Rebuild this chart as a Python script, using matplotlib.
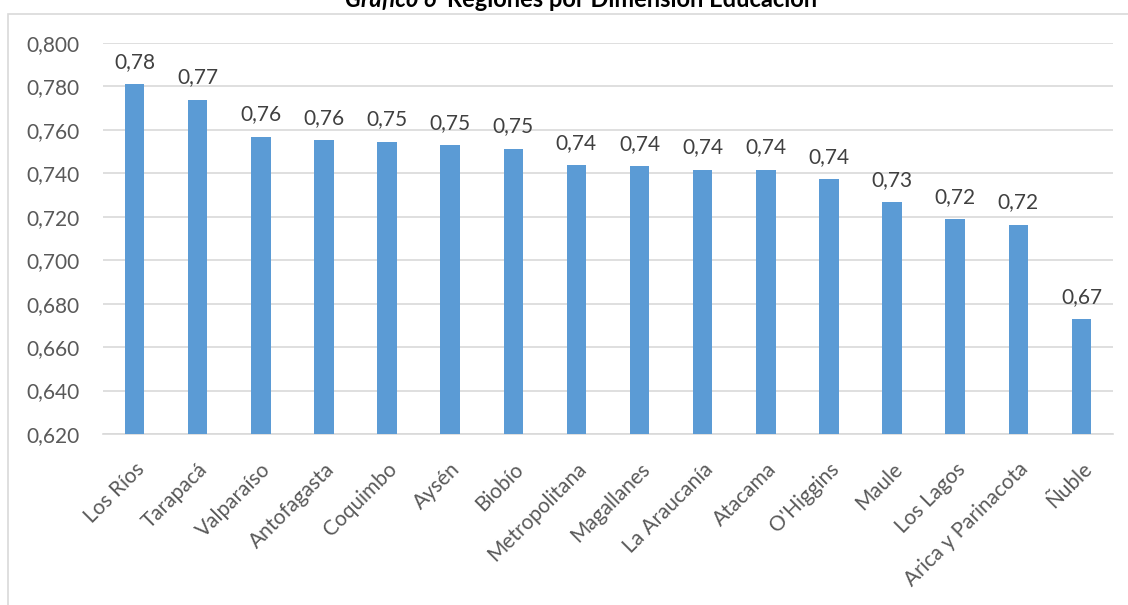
import matplotlib
matplotlib.use("Agg")
import matplotlib.pyplot as plt
from matplotlib.patches import Rectangle
from matplotlib.ticker import FuncFormatter

regions = ["Los Ríos", "Tarapacá", "Valparaíso", "Antofagasta", "Coquimbo", "Aysén",
           "Biobío", "Metropolitana", "Magallanes", "La Araucanía", "Atacama",
           "O'Higgins", "Maule", "Los Lagos", "Arica y Parinacota", "Ñuble"]
values = [0.781, 0.7738, 0.7569, 0.7553, 0.7544, 0.7530, 0.7512, 0.7437, 0.7433,
          0.7416, 0.7415, 0.7372, 0.7266, 0.7189, 0.7163, 0.6728]
title_italic = "Gráfico 6"
title_rest = "Regiones por Dimensión Educación"

W, H = 1128, 605
fig = plt.figure(figsize=(W / 100, H / 100), dpi=100)
plt.rcParams['font.family'] = ['Lato', 'DejaVu Sans']
txt = "#595959"

# chart border
fig.patches.append(Rectangle((8 / W, -0.1), 1.2, 1 - 14 / H + 0.1, transform=fig.transFigure,
                             facecolor="none", edgecolor="#d9d9d9", linewidth=1.2))

ax = fig.add_axes([103 / W, 1 - 434 / H, (1113 - 103) / W, (434 - 43) / H])
x = list(range(len(regions)))
ax.bar(x, values, width=0.31, color="#5b9bd5", zorder=3)
ax.set_ylim(0.62, 0.80)
ax.set_xlim(-0.5, len(regions) - 0.5)
ax.set_yticks([0.62 + 0.02 * i for i in range(10)])
ax.yaxis.set_major_formatter(FuncFormatter(lambda v, p: f"{v:.3f}".replace(".", ",")))
ax.grid(axis="y", color="#d9d9d9", linewidth=1.2, zorder=0)
for s in ["top", "right", "left"]:
    ax.spines[s].set_visible(False)
ax.spines["bottom"].set_color("#d9d9d9")
ax.spines["bottom"].set_linewidth(1.2)
ax.tick_params(axis="both", length=0, colors=txt, labelsize=15)
ax.tick_params(axis="y", pad=17)
ax.set_xticks(x)
ax.set_xticklabels(regions, rotation=45, ha="right", rotation_mode="anchor")
ax.tick_params(axis="x", pad=18)

for xi, v in zip(x, values):
    ax.annotate(f"{v:.2f}".replace(".", ","), (xi, v), xytext=(0, 9), textcoords="offset points",
                ha="center", va="bottom", color="#404040", fontsize=15)

ty = 1 - 7 / H
t1 = fig.text(0, ty, title_italic + " ", ha="left", va="baseline", fontsize=17,
              fontweight="bold", fontstyle="italic", color="black")
t2 = fig.text(0, ty, title_rest, ha="left", va="baseline", fontsize=17,
              fontweight="bold", color="black")
r = fig.canvas.get_renderer()
w1 = t1.get_window_extent(r).width
w2 = t2.get_window_extent(r).width
start = 581 - (w1 + w2 + 6) / 2
t1.set_x(start / W)
t2.set_x((start + w1 + 6) / W)

fig.savefig("out.png", dpi=100, facecolor="white")
